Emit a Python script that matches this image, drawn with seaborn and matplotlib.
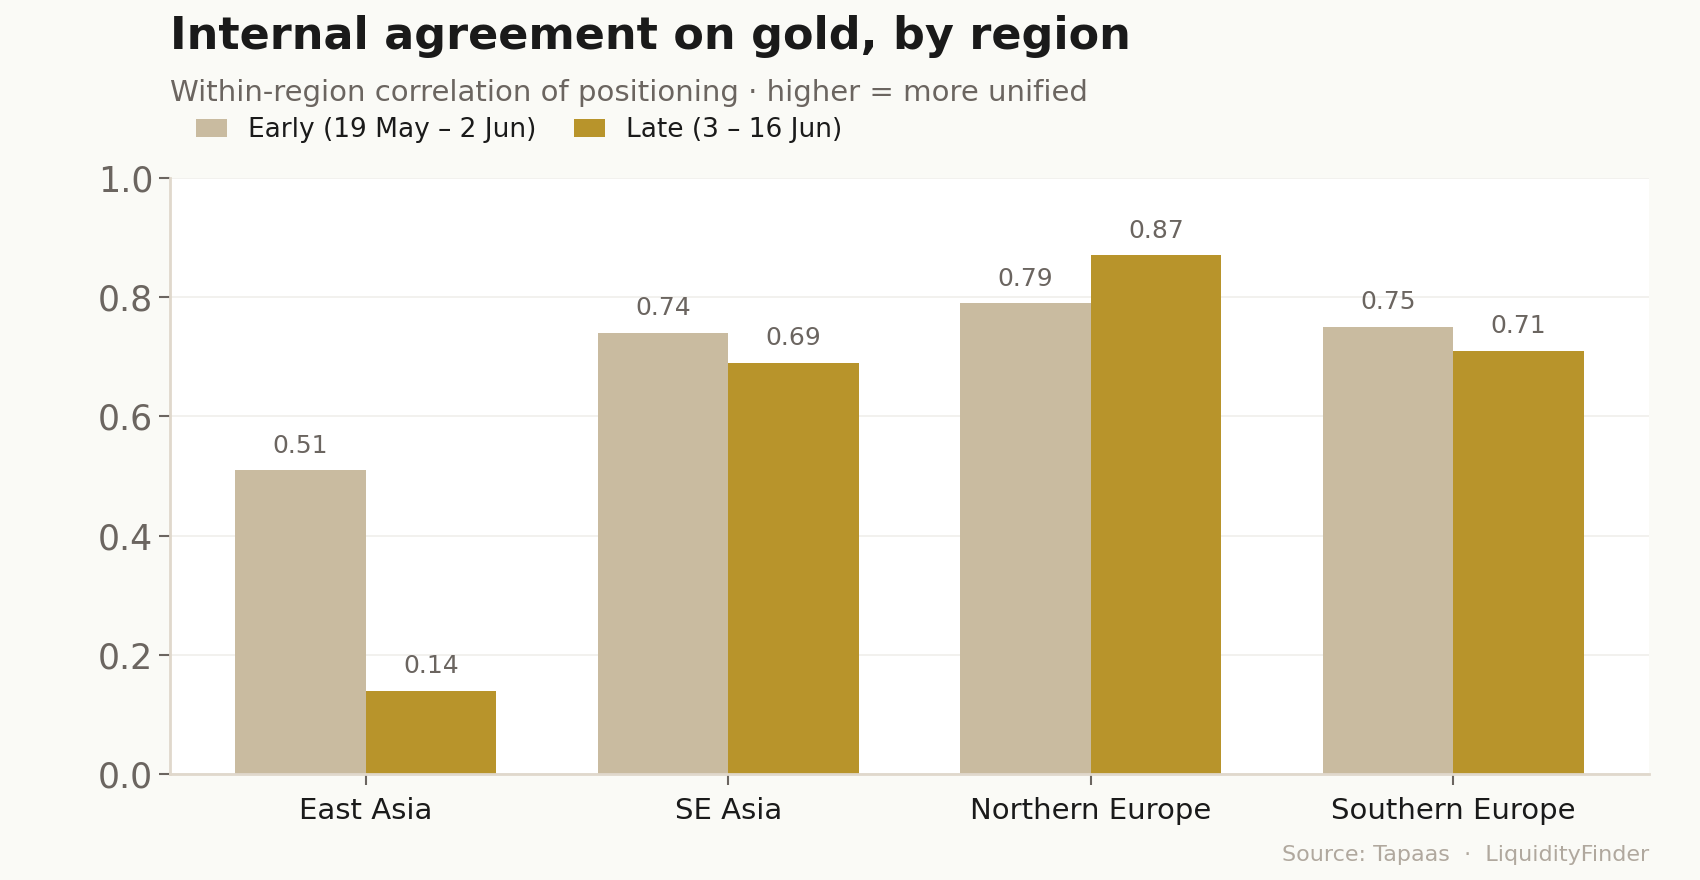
import numpy as np
import pandas as pd
import matplotlib.pyplot as plt
import seaborn as sns

# values
regions = ['East Asia', 'SE Asia', 'Northern Europe', 'Southern Europe']
early = [0.51, 0.74, 0.79, 0.75]
late = [0.14, 0.69, 0.87, 0.71]
periods = ['Early (19 May – 2 Jun)', 'Late (3 – 16 Jun)']

df = pd.DataFrame({
    'region': regions * 2,
    'corr': early + late,
    'period': [periods[0]] * len(regions) + [periods[1]] * len(regions),
})

sns.set_theme(style='white')
plt.rcParams['font.family'] = ['DejaVu Sans']

fig = plt.figure(figsize=(17, 8.8), dpi=100, facecolor='#FAFAF6')
ax = fig.add_axes([0.1, 0.12, 0.87, 0.678])
ax.set_facecolor('white')

sns.barplot(data=df, x='region', y='corr', hue='period',
            palette=['#C9BBA0', '#B8942B'], width=0.72, saturation=1,
            linewidth=0, ax=ax, errorbar=None)

for c in ax.containers:
    ax.bar_label(c, fmt='%.2f', padding=9, fontsize=18, color='#6b6560')

ax.set_ylim(0, 1.0)
ax.set_xlim(-0.54, 3.54)
ax.set_yticks([0, 0.2, 0.4, 0.6, 0.8, 1.0])
ax.set_yticklabels(['0.0', '0.2', '0.4', '0.6', '0.8', '1.0'])
ax.yaxis.grid(True, color='#F0EFEB', linewidth=1.2)
ax.set_axisbelow(True)
ax.set_xlabel('')
ax.set_ylabel('')

for s in ['top', 'right']:
    ax.spines[s].set_visible(False)
for s in ['left', 'bottom']:
    ax.spines[s].set_color('#E0D8CC')
    ax.spines[s].set_linewidth(2)

ax.tick_params(axis='y', labelsize=25, labelcolor='#6b6560', color='#6b6560',
               length=8, width=1.5, left=True, pad=4)
ax.tick_params(axis='x', labelsize=21, labelcolor='#1a1a1a', color='#6b6560',
               length=8, width=1.5, bottom=True, pad=8)

ax.legend(loc='center left', bbox_to_anchor=(0.1155, 0.852),
          bbox_transform=fig.transFigure, ncol=2, frameon=False,
          fontsize=19, handlelength=1.15, handleheight=0.65, columnspacing=1.45,
          handletextpad=0.8, borderaxespad=0, borderpad=0, labelcolor='#1a1a1a')

fig.text(0.1, 0.958, 'Internal agreement on gold, by region', fontsize=32,
         fontweight='bold', color='#1a1a1a', va='center', ha='left')
fig.text(0.1, 0.894, 'Within-region correlation of positioning · higher = more unified',
         fontsize=21, color='#6b6560', va='center', ha='left')
fig.text(0.97, 0.028, 'Source: Tapaas  ·  LiquidityFinder', fontsize=16,
         color='#B0A89E', va='center', ha='right')

fig.savefig('out.png', dpi=100, facecolor=fig.get_facecolor())
